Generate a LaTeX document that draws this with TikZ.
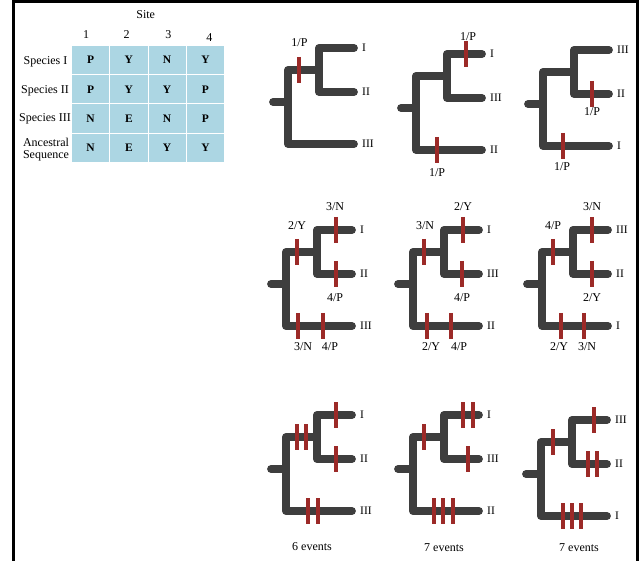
\documentclass[tikz,border=0pt]{standalone}
\usepackage{fontspec}
\setmainfont{Liberation Serif}
\usetikzlibrary{matrix}
\definecolor{cellblue}{RGB}{172,214,227}
\definecolor{treegray}{RGB}{62,62,62}
\definecolor{markred}{RGB}{156,42,40}

\begin{document}
\begin{tikzpicture}[x=1pt,y=-1pt,
  branch/.style={draw=treegray,line width=7.8pt,line cap=round,line join=round},
  subst/.style={draw=markred,line width=4pt},
  tip/.style={anchor=west,inner sep=0pt,font=\fontsize{11.5}{12}\selectfont},
  lab/.style={inner sep=0pt,font=\fontsize{12}{13}\selectfont},
  tabcell/.style={fill=cellblue,minimum width=37.3pt,minimum height=28.4pt,inner sep=0pt,
    font=\fontsize{11.5}{12}\selectfont\bfseries}]
\useasboundingbox (0,0) rectangle (640,561);
\draw[line width=3pt] (13.5,561) -- (13.5,1.5) -- (637,1.5) -- (637,561);

% sites table
\matrix (tab) [matrix of nodes, nodes={tabcell}, column sep=1pt, row sep=1pt] at (148,104) {
P & Y & N & Y \\
P & Y & Y & P \\
N & E & N & P \\
N & E & Y & Y \\
};
\node[lab] (site) at (145.7,15) {Site};
\node[lab] (col1) at (86,35) {1};
\node[lab] (col2) at (126.7,35) {2};
\node[lab] (col3) at (168.3,35) {3};
\node[lab] (col4) at (209.3,37.5) {4};
\node[lab] (spI) at (45.5,61.5) {Species I};
\node[lab] (spII) at (45,90.5) {Species II};
\node[lab] (spIII) at (45,118.5) {Species III};
\node[lab,align=center] (anc) at (46,150) {Ancestral\\[-1pt]Sequence};

% row 1
\begin{scope}[shift={(288,48)}]
\draw[branch] (66,0) -- (31,0) -- (31,44) -- (66,44) (31,22) -- (0,22) -- (0,96) -- (66,96) (-15,54) -- (0,54);
\draw[subst] (10.5,9) -- (10.5,35);
\node[lab] (t1-p1) at (11.5,-5) {1/P};
\node[tip] (t1-a) at (74,0) {I};
\node[tip] (t1-b) at (74,44) {II};
\node[tip] (t1-c) at (74,96) {III};
\end{scope}

\begin{scope}[shift={(416,54)}]
\draw[branch] (66,0) -- (31,0) -- (31,44) -- (66,44) (31,22) -- (0,22) -- (0,96) -- (66,96) (-15,54) -- (0,54);
\draw[subst] (50,-13) -- (50,13);
\draw[subst] (21,83) -- (21,109);
\node[lab] (t2-p1) at (52,-17) {1/P};
\node[lab] (t2-p2) at (21,119) {1/P};
\node[tip] (t2-a) at (74,0) {I};
\node[tip] (t2-b) at (74,44) {III};
\node[tip] (t2-c) at (74,96) {II};
\end{scope}

\begin{scope}[shift={(543,50)}]
\draw[branch] (66,0) -- (31,0) -- (31,44) -- (66,44) (31,22) -- (0,22) -- (0,96) -- (66,96) (-15,54) -- (0,54);
\draw[subst] (49,31) -- (49,57);
\draw[subst] (20,83) -- (20,109);
\node[lab] (t3-p1) at (49,62) {1/P};
\node[lab] (t3-p2) at (19,117) {1/P};
\node[tip] (t3-a) at (74,0) {III};
\node[tip] (t3-b) at (74,44) {II};
\node[tip] (t3-c) at (74,96) {I};
\end{scope}

% row 2
\begin{scope}[shift={(286,230)}]
\draw[branch] (66,0) -- (31,0) -- (31,44) -- (66,44) (31,22) -- (0,22) -- (0,96) -- (66,96) (-15,54) -- (0,54);
\draw[subst] (11,9) -- (11,35);
\draw[subst] (50,-13) -- (50,13);
\draw[subst] (50,31) -- (50,57);
\draw[subst] (12,83) -- (12,109);
\draw[subst] (37,83) -- (37,109);
\node[lab] (t4-p1) at (11,-4) {2/Y};
\node[lab] (t4-p2) at (49,-23) {3/N};
\node[lab] (t4-p3) at (49,68) {4/P};
\node[lab] (t4-p4) at (17,117) {3/N};
\node[lab] (t4-p5) at (44,117) {4/P};
\node[tip] (t4-a) at (74,0) {I};
\node[tip] (t4-b) at (74,44) {II};
\node[tip] (t4-c) at (74,96) {III};
\end{scope}

\begin{scope}[shift={(413,230)}]
\draw[branch] (66,0) -- (31,0) -- (31,44) -- (66,44) (31,22) -- (0,22) -- (0,96) -- (66,96) (-15,54) -- (0,54);
\draw[subst] (11,9) -- (11,35);
\draw[subst] (50,-13) -- (50,13);
\draw[subst] (49,31) -- (49,57);
\draw[subst] (14,83) -- (14,109);
\draw[subst] (38,83) -- (38,109);
\node[lab] (t5-p1) at (12,-4) {3/N};
\node[lab] (t5-p2) at (50,-23) {2/Y};
\node[lab] (t5-p3) at (49,68) {4/P};
\node[lab] (t5-p4) at (18,117) {2/Y};
\node[lab] (t5-p5) at (46,117) {4/P};
\node[tip] (t5-a) at (74,0) {I};
\node[tip] (t5-b) at (74,44) {III};
\node[tip] (t5-c) at (74,96) {II};
\end{scope}

\begin{scope}[shift={(542,230)}]
\draw[branch] (66,0) -- (31,0) -- (31,44) -- (66,44) (31,22) -- (0,22) -- (0,96) -- (66,96) (-15,54) -- (0,54);
\draw[subst] (11,9) -- (11,35);
\draw[subst] (50,-13) -- (50,13);
\draw[subst] (50,31) -- (50,57);
\draw[subst] (19,83) -- (19,109);
\draw[subst] (42,83) -- (42,109);
\node[lab] (t6-p1) at (11,-4) {4/P};
\node[lab] (t6-p2) at (50,-23) {3/N};
\node[lab] (t6-p3) at (50,68) {2/Y};
\node[lab] (t6-p4) at (17,117) {2/Y};
\node[lab] (t6-p5) at (45,117) {3/N};
\node[tip] (t6-a) at (74,0) {III};
\node[tip] (t6-b) at (74,44) {II};
\node[tip] (t6-c) at (74,96) {I};
\end{scope}

% row 3
\begin{scope}[shift={(286,415)}]
\draw[branch] (66,0) -- (31,0) -- (31,44) -- (66,44) (31,22) -- (0,22) -- (0,96) -- (66,96) (-15,54) -- (0,54);
\draw[subst] (11,9) -- (11,35);
\draw[subst] (20,9) -- (20,35);
\draw[subst] (50,-13) -- (50,13);
\draw[subst] (50,31) -- (50,57);
\draw[subst] (22,83) -- (22,109);
\draw[subst] (32,83) -- (32,109);
\node[tip] (t7-a) at (74,0) {I};
\node[tip] (t7-b) at (74,44) {II};
\node[tip] (t7-c) at (74,96) {III};
\node[lab] (ev7) at (26,132) {6 events};
\end{scope}

\begin{scope}[shift={(413,415)}]
\draw[branch] (66,0) -- (31,0) -- (31,44) -- (66,44) (31,22) -- (0,22) -- (0,96) -- (66,96) (-15,54) -- (0,54);
\draw[subst] (11,9) -- (11,35);
\draw[subst] (50,-13) -- (50,13);
\draw[subst] (60,-13) -- (60,13);
\draw[subst] (55,31) -- (55,57);
\draw[subst] (21,83) -- (21,109);
\draw[subst] (30,83) -- (30,109);
\draw[subst] (40,83) -- (40,109);
\node[tip] (t8-a) at (74,0) {I};
\node[tip] (t8-b) at (74,44) {III};
\node[tip] (t8-c) at (74,96) {II};
\node[lab] (ev8) at (31,133) {7 events};
\end{scope}

\begin{scope}[shift={(541,420)}]
\draw[branch] (66,0) -- (31,0) -- (31,44) -- (66,44) (31,22) -- (0,22) -- (0,96) -- (66,96) (-15,54) -- (0,54);
\draw[subst] (12,9) -- (12,35);
\draw[subst] (53,-13) -- (53,13);
\draw[subst] (47,31) -- (47,57);
\draw[subst] (56,31) -- (56,57);
\draw[subst] (22,83) -- (22,109);
\draw[subst] (31,83) -- (31,109);
\draw[subst] (40,83) -- (40,109);
\node[tip] (t9-a) at (74,0) {III};
\node[tip] (t9-b) at (74,44) {II};
\node[tip] (t9-c) at (74,96) {I};
\node[lab] (ev9) at (38,128) {7 events};
\end{scope}
\end{tikzpicture}
\end{document}
